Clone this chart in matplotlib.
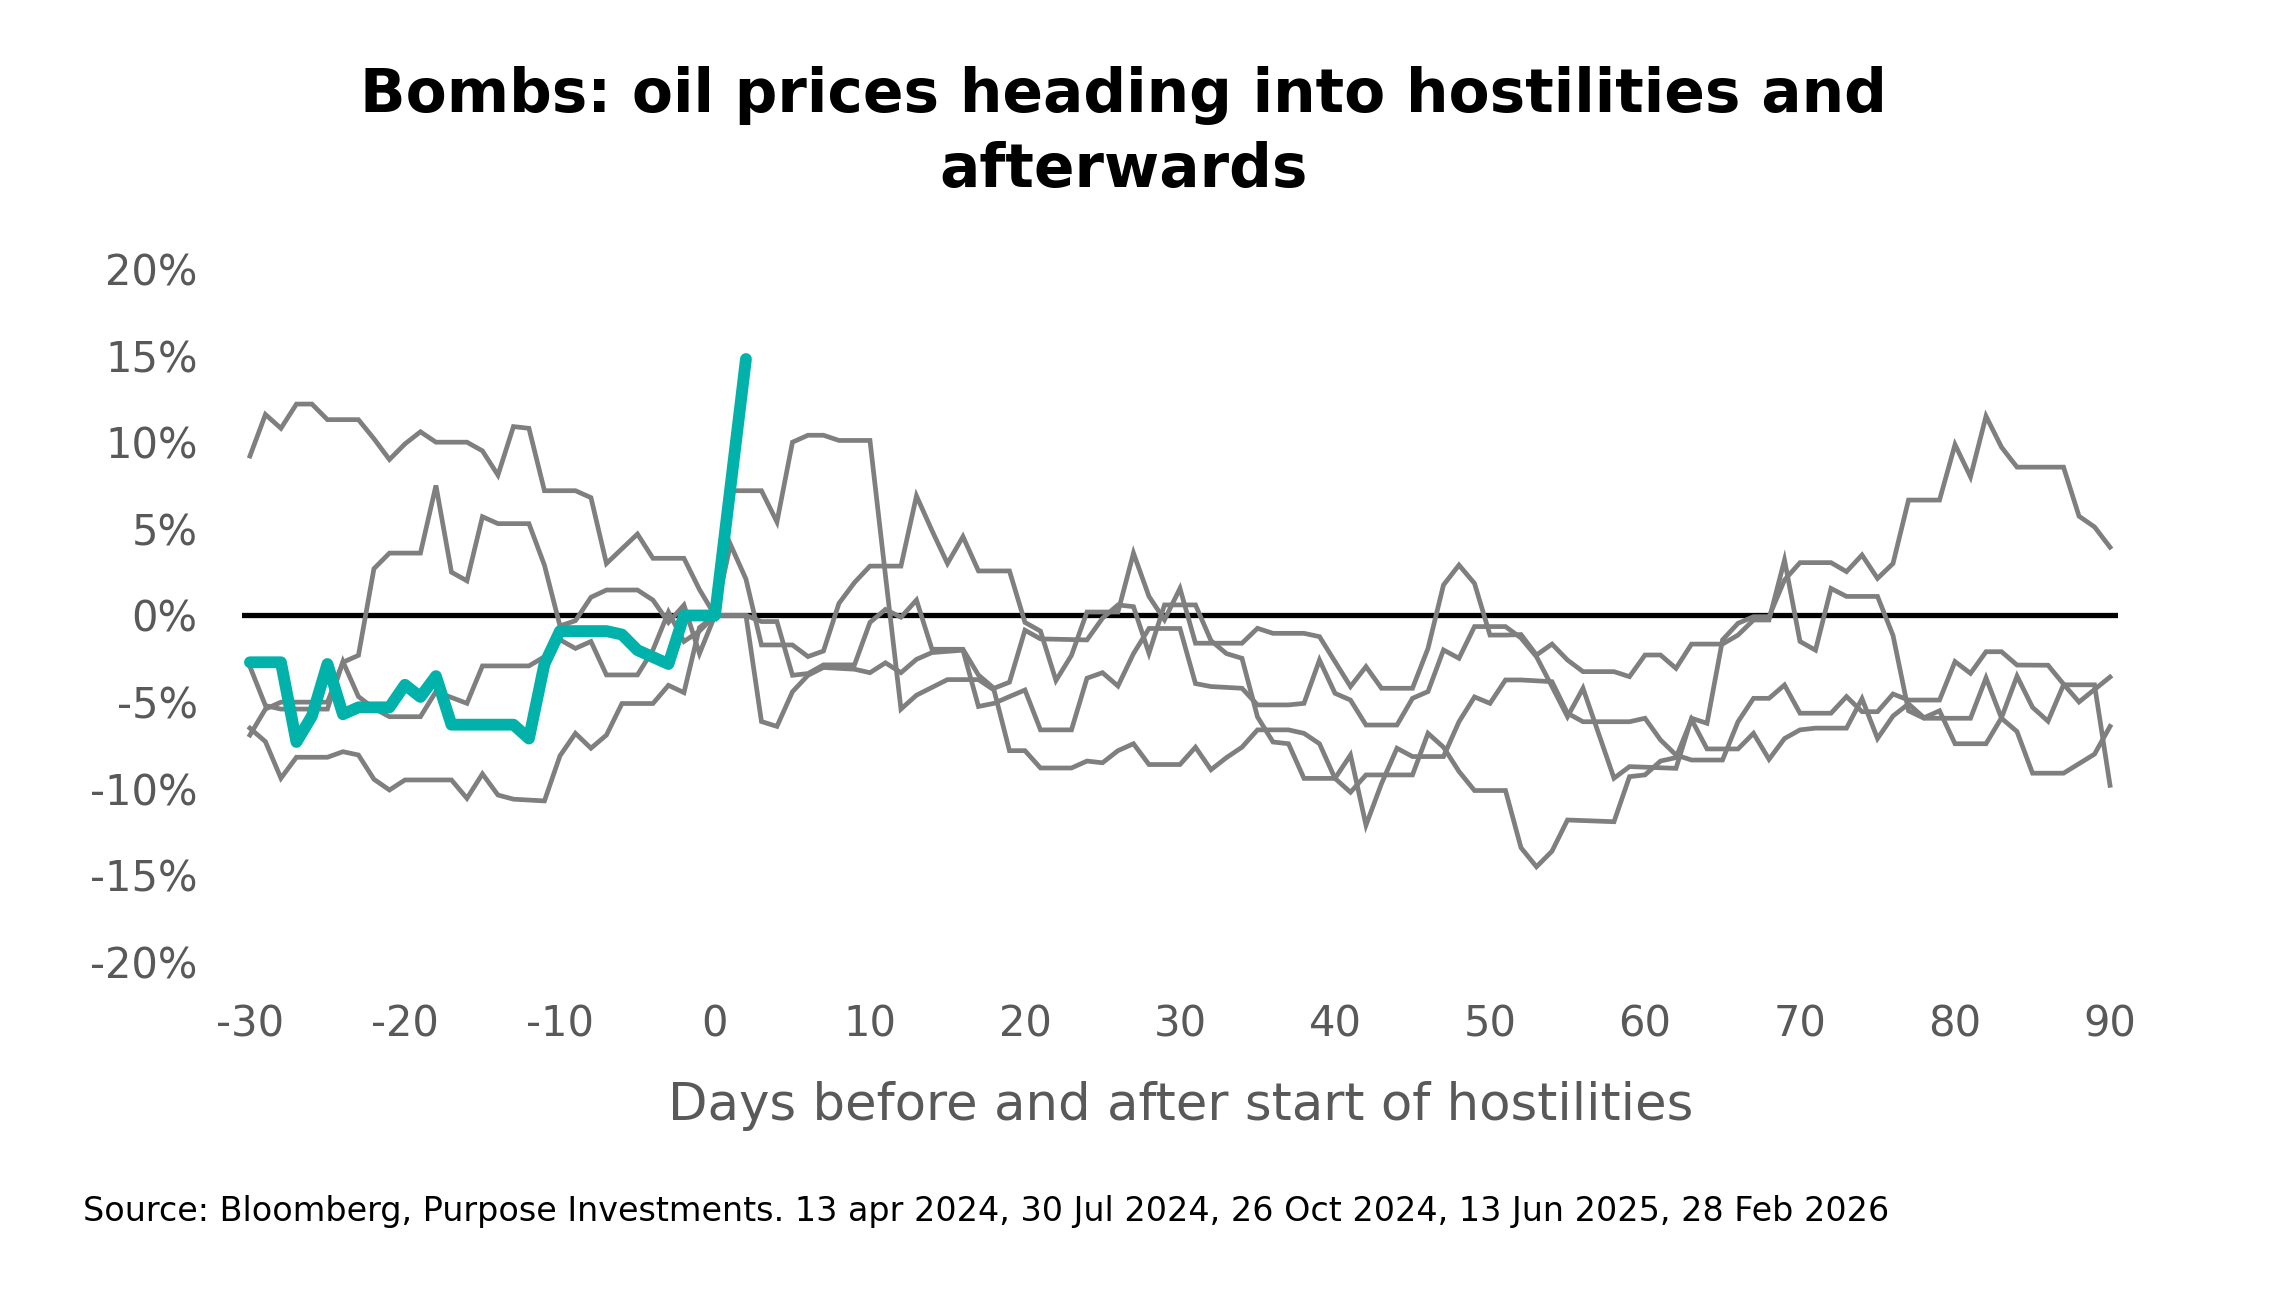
import matplotlib
matplotlib.use("Agg")
import matplotlib.pyplot as plt
from matplotlib.ticker import FuncFormatter

# --- data (vertex days and % change vs day 0) ---
# current episode (teal)
teal_days = [-30, -28, -27, -26, -25, -24, -23, -21, -20, -19, -18, -17, -13, -12, -11, -10,
             -7, -6, -5, -3, -2, 0, 2]
teal_vals = [-2.7, -2.7, -7.3, -5.8, -2.8, -5.7, -5.3, -5.3, -4.0, -4.7, -3.5, -6.3, -6.3, -7.1,
             -2.8, -0.9, -0.9, -1.1, -2.0, -2.8, 0.0, 0.0, 14.8]

# past episodes (grey)
s1_days = [-30, -29, -28, -27, -26, -25, -23, -22, -21, -20, -19, -18, -16, -15, -14, -13, -12,
           -11, -9, -8, -7, -5, -4, -2, -1, 0, 1, 3, 4, 5, 6, 7, 8, 10, 11, 12, 13, 15, 17, 18,
           19, 20, 21, 23, 24, 25, 26, 27, 28, 30, 31, 32, 33, 34, 35, 37, 38, 39, 40, 41, 42,
           45, 46, 47, 48, 49, 51, 52, 53, 54, 55, 58, 59, 60, 61, 62, 63, 64, 66, 67, 68, 69,
           70, 71, 73, 74, 75, 76, 77, 78, 79, 80, 82, 83, 84, 85, 86, 87, 89, 90]
s1_vals = [9.2, 11.6, 10.8, 12.2, 12.2, 11.3, 11.3, 10.2, 9.0, 9.9, 10.6, 10.0, 10.0, 9.5, 8.1,
           10.9, 10.8, 7.2, 7.2, 6.8, 3.0, 4.7, 3.3, 3.3, 1.5, 0.0, 7.2, 7.2, 5.4, 10.0, 10.4,
           10.4, 10.1, 10.1, 2.3, -5.4, -4.6, -3.7, -3.7, -4.3, -7.8, -7.8, -8.8, -8.8, -8.4,
           -8.5, -7.8, -7.4, -8.6, -8.6, -7.6, -8.9, -8.2, -7.6, -6.6, -6.6, -6.8, -7.4, -9.4,
           -10.2, -9.2, -9.2, -6.8, -7.6, -9.0, -10.1, -10.1, -13.4, -14.5, -13.6, -11.8, -11.9,
           -9.3, -9.2, -8.4, -8.2, -6.0, -7.7, -7.7, -6.8, -8.3, -7.1, -6.6, -6.5, -6.5, -4.8,
           -7.1, -5.8, -5.1, -5.9, -5.5, -7.4, -7.4, -5.9, -3.5, -5.3, -6.1, -4.0, -4.0, -9.8]

s2_days = [-30, -29, -28, -25, -24, -23, -22, -21, -19, -18, -17, -16, -15, -14, -12, -11, -10,
           -9, -8, -7, -5, -4, -3, -2, -1, 0, 1, 2, 3, 5, 6, 7, 8, 9, 10, 12, 13, 14, 15, 16, 17,
           19, 20, 21, 22, 23, 24, 26, 27, 28, 29, 30, 31, 34, 35, 36, 38, 39, 40, 41, 42, 43,
           45, 46, 47, 48, 49, 50, 51, 52, 53, 54, 55, 56, 58, 59, 60, 61, 62, 63, 65, 66, 67,
           68, 69, 70, 71, 72, 73, 75, 76, 77, 78, 81, 82, 83, 84, 85, 87, 89, 90]
s2_vals = [-6.9, -5.4, -5.0, -5.0, -2.7, -2.3, 2.7, 3.6, 3.6, 7.5, 2.5, 2.0, 5.7, 5.3, 5.3, 2.9,
           -0.6, -0.3, 1.05, 1.47, 1.47, 0.89, -0.4, 0.6, -2.2, 0.0, 4.1, 2.1, -1.7, -1.7, -2.37,
           -2.05, 0.7, 1.9, 2.85, 2.85, 6.9, 4.9, 3.0, 4.55, 2.57, 2.57, -0.4, -0.9, -3.75, -2.3,
           0.2, 0.2, 3.6, 1.1, -0.25, 1.56, -1.6, -1.6, -0.74, -1.03, -1.03, -1.22, -2.66, -4.1,
           -2.95, -4.2, -4.2, -1.9, 1.76, 2.91, 1.85, -1.13, -1.13, -1.1, -2.28, -1.65, -2.57,
           -3.24, -3.24, -3.53, -2.28, -2.28, -3.05, -1.65, -1.65, -1.13, -0.26, -0.26, 3.2,
           -1.5, -2.0, 1.56, 1.1, 1.1, -1.15, -5.5, -5.93, -5.93, -3.6, -5.93, -6.7, -9.1, -9.1,
           -8.0, -6.4]

s3_days = [-30, -29, -28, -25, -24, -23, -22, -21, -19, -18, -16, -15, -12, -11, -10, -9, -8,
           -7, -5, -4, -3, -2, -1, 0, 2, 3, 4, 5, 6, 7, 9, 10, 11, 12, 13, 14, 16, 17, 18, 19, 20,
           21, 24, 25, 26, 27, 28, 29, 31, 32, 33, 34, 35, 36, 37, 38, 40, 41, 42, 43, 44, 45, 47,
           48, 49, 50, 51, 52, 54, 55, 56, 59, 60, 61, 62, 63, 65, 66, 67, 68, 69, 70, 72, 73,
           74, 75, 76, 77, 79, 80, 81, 82, 83, 84, 86, 87, 88, 89, 90]
s3_vals = [-2.95, -5.2, -5.4, -5.4, -2.66, -4.68, -5.36, -5.84, -5.84, -4.39, -5.07, -2.91,
           -2.91, -2.38, -1.4, -1.9, -1.5, -3.43, -3.43, -1.99, 0.2, -1.5, -0.9, 0.0, 0.0,
           -0.35, -0.35, -3.45, -3.35, -2.85, -2.85, -0.4, 0.35, -0.1, 0.89, -1.95, -1.95, -3.44,
           -4.2, -3.85, -0.85, -1.35, -1.41, -0.16, 0.61, 0.51, -2.18, 0.61, 0.61, -1.45, -2.2,
           -2.47, -5.85, -7.3, -7.4, -9.4, -9.4, -8.05, -12.1, -9.7, -7.66, -8.14, -8.14, -6.13,
           -4.7, -5.07, -3.72, -3.72, -3.82, -5.64, -6.13, -6.13, -5.93, -7.18, -8.05, -8.34,
           -8.34, -6.13, -4.78, -4.78, -4.01, -5.64, -5.64, -4.68, -5.55, -5.55, -4.53, -4.88,
           -4.88, -2.66, -3.34, -2.09, -2.09, -2.86, -2.87, -3.96, -4.99, -4.27, -3.55]

s4_days = [-30, -29, -28, -27, -25, -24, -23, -22, -21, -20, -17, -16, -15, -14, -13, -11, -10,
           -9, -8, -7, -6, -4, -3, -2, -1, 0, 2, 3, 4, 5, 6, 7, 9, 10, 11, 12, 13, 14, 16, 17,
           18, 19, 20, 21, 23, 24, 25, 26, 27, 28, 30, 31, 32, 34, 35, 37, 38, 39, 40, 41, 42,
           44, 45, 46, 47, 48, 49, 51, 52, 53, 54, 55, 56, 58, 59, 62, 63, 64, 65, 66, 67, 68,
           69, 70, 72, 73, 74, 75, 76, 77, 79, 80, 81, 82, 83, 84, 87, 88, 89, 90]
s4_vals = [-6.5, -7.28, -9.39, -8.18, -8.18, -7.86, -8.05, -9.45, -10.07, -9.49, -9.49, -10.55,
           -9.14, -10.36, -10.6, -10.7, -8.1, -6.8, -7.66, -6.9, -5.08, -5.08, -4.03, -4.45,
           -0.7, 0.0, 0.0, -6.12, -6.4, -4.4, -3.45, -3.0, -3.1, -3.3, -2.73, -3.3, -2.53, -2.14,
           -2.0, -5.25, -5.07, -4.68, -4.3, -6.6, -6.6, -3.62, -3.3, -4.07, -2.2, -0.75, -0.75,
           -3.93, -4.1, -4.2, -5.16, -5.16, -5.07, -2.57, -4.49, -4.88, -6.32, -6.32, -4.78,
           -4.39, -1.99, -2.47, -0.64, -0.64, -1.3, -2.38, -4.1, -5.84, -4.2, -9.39, -8.72,
           -8.82, -5.93, -6.22, -1.41, -0.45, -0.07, -0.07, 2.05, 3.05, 3.05, 2.53, 3.49, 2.14,
           3.0, 6.66, 6.66, 9.86, 8.0, 11.5, 9.71, 8.56, 8.56, 5.73, 5.11, 3.94]

grey_series = [(s1_days, s1_vals), (s2_days, s2_vals), (s3_days, s3_vals), (s4_days, s4_vals)]

x_ticks = list(range(-30, 91, 10))
y_ticks = list(range(-20, 21, 5))

title = "Bombs: oil prices heading into hostilities and\nafterwards"
x_label = "Days before and after start of hostilities"
source = ("Source: Bloomberg, Purpose Investments. 13 apr 2024, 30 Jul 2024, "
          "26 Oct 2024, 13 Jun 2025, 28 Feb 2026")

GREY = "#7f7f7f"
TEAL = "#00b2a9"
LABEL = "#595959"

plt.rcParams["axes.unicode_minus"] = False

fig = plt.figure(figsize=(22.74, 13.04), dpi=100)
ax = fig.add_axes([0.1065, 0.2622, 0.8248, 0.5316])

ax.axhline(0, color="black", lw=3.8, zorder=1)
for d, v in grey_series:
    ax.plot(d, v, color=GREY, lw=3.4, zorder=2, solid_joinstyle="miter")
ax.plot(teal_days, teal_vals, color=TEAL, lw=8.5, zorder=3, solid_capstyle="round")

ax.set_xlim(-30.5, 90.5)
ax.set_ylim(-20, 20)
ax.set_xticks(x_ticks)
ax.set_yticks(y_ticks)
ax.yaxis.set_major_formatter(FuncFormatter(lambda v, p: f"{v:.0f}%"))
ax.tick_params(length=0, labelsize=30, labelcolor=LABEL)
ax.tick_params(axis="x", pad=30)
ax.tick_params(axis="y", pad=32)
for s in ax.spines.values():
    s.set_visible(False)

fig.text(0.494, 0.898, title, ha="center", va="center", fontsize=43,
         fontweight="bold", linespacing=1.36)
fig.text(0.519, 0.152, x_label, ha="center", va="center", fontsize=37, color=LABEL)
fig.text(0.0365, 0.0706, source, ha="left", va="center", fontsize=24)

fig.savefig("out.png", dpi=100)
